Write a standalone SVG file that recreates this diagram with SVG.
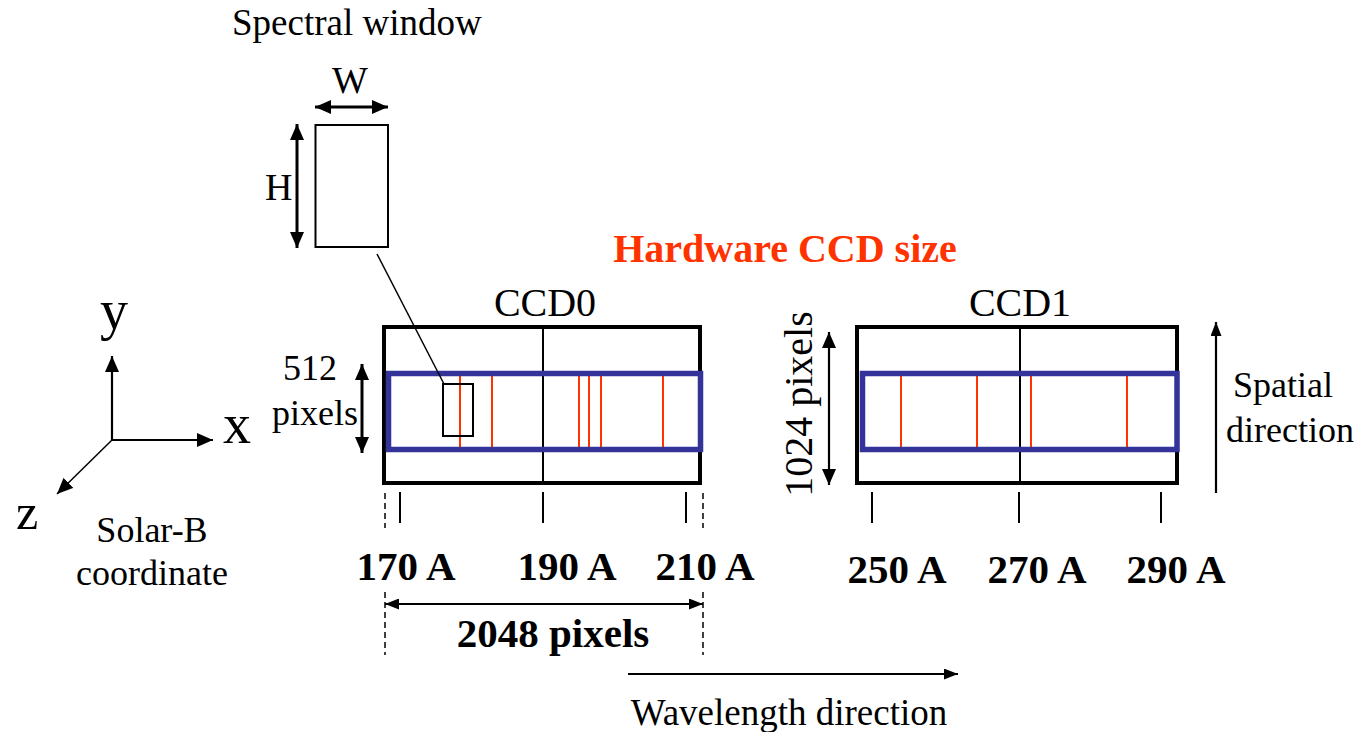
<svg xmlns="http://www.w3.org/2000/svg" width="1361" height="732" viewBox="0 0 1361 732">
<defs>
<style>
text{font-family:"Liberation Serif","Times New Roman",serif;fill:#000}
.t36{font-size:36px}
.b41{font-size:41px;font-weight:bold}
.red{fill:#ff3300}
.frame{fill:none;stroke:#000;stroke-width:4}
.band{fill:none;stroke:#333399;stroke-width:5.5}
.mid{stroke:#000;stroke-width:2}
.line{stroke:#ff3300;stroke-width:2}
.tick{stroke:#000;stroke-width:2}
.dash{stroke:#000;stroke-width:1.5;stroke-dasharray:6 4}
.arr{stroke:#000;stroke-width:3;fill:none}
.thin{stroke:#000;stroke-width:2.2;fill:none}
</style>
<marker id="ah" viewBox="0 0 16 14" refX="16" refY="7" markerWidth="16" markerHeight="14" markerUnits="userSpaceOnUse" orient="auto-start-reverse">
<path d="M0,0 L16,7 L0,14 z" fill="#000"/>
</marker>
<marker id="ahs" viewBox="0 0 14 11" refX="14" refY="5.5" markerWidth="14" markerHeight="11" markerUnits="userSpaceOnUse" orient="auto-start-reverse">
<path d="M0,0 L14,5.5 L0,11 z" fill="#000"/>
</marker>
</defs>
<rect width="1361" height="732" fill="#fff"/>

<g id="spectral-window">
<text x="232" y="35" style="font-size:37px">Spectral window</text>
<rect x="315.5" y="125" width="72.5" height="122" fill="none" stroke="#000" stroke-width="2"/>
<line x1="315" y1="107" x2="388" y2="107" class="arr" marker-start="url(#ah)" marker-end="url(#ah)"/>
<text x="350" y="93" text-anchor="middle" style="font-size:38px">W</text>
<line x1="297" y1="124" x2="297" y2="248" class="arr" marker-start="url(#ah)" marker-end="url(#ah)"/>
<text x="265" y="200" style="font-size:38px">H</text>
</g>

<g id="hardware-label">
<text x="785" y="262" text-anchor="middle" class="red" style="font-size:40px;font-weight:bold">Hardware CCD size</text>
</g>

<g id="ccd0">
<text x="545" y="316" text-anchor="middle" style="font-size:40px">CCD0</text>
<rect x="384" y="327" width="316" height="156" class="frame"/>
<line x1="543" y1="327" x2="543" y2="483" class="mid"/>
<line x1="460" y1="374" x2="460" y2="447" class="line"/>
<line x1="492" y1="374" x2="492" y2="447" class="line"/>
<line x1="579" y1="374" x2="579" y2="447" class="line"/>
<line x1="589" y1="374" x2="589" y2="447" class="line"/>
<line x1="601" y1="374" x2="601" y2="447" class="line"/>
<line x1="663" y1="374" x2="663" y2="447" class="line"/>
<rect x="388.5" y="373.5" width="312" height="76" class="band"/>
<rect x="443" y="384" width="30" height="52" fill="none" stroke="#000" stroke-width="2"/>
<text x="310" y="380" text-anchor="middle" class="t36">512</text>
<text x="315" y="425" text-anchor="middle" class="t36">pixels</text>
<line x1="362" y1="364" x2="362" y2="453" class="arr" marker-start="url(#ah)" marker-end="url(#ah)"/>
</g>

<g id="ccd1">
<text x="1020" y="316" text-anchor="middle" style="font-size:40px">CCD1</text>
<rect x="857" y="327" width="320" height="156" class="frame"/>
<line x1="1020" y1="327" x2="1020" y2="483" class="mid"/>
<line x1="901" y1="374" x2="901" y2="447" class="line"/>
<line x1="977" y1="374" x2="977" y2="447" class="line"/>
<line x1="1031" y1="374" x2="1031" y2="447" class="line"/>
<line x1="1127" y1="374" x2="1127" y2="450" class="line"/>
<rect x="862.5" y="373.5" width="314.5" height="76" class="band"/>
<text transform="translate(812,404) rotate(-90)" text-anchor="middle" style="font-size:40px">1024 pixels</text>
<line x1="829" y1="332" x2="829" y2="485" class="thin" marker-start="url(#ah)" marker-end="url(#ah)"/>
</g>

<g id="spatial-direction">
<line x1="1216" y1="493" x2="1216" y2="322" class="thin" marker-end="url(#ahs)"/>
<text x="1283" y="397" text-anchor="middle" class="t36">Spatial</text>
<text x="1290" y="442" text-anchor="middle" class="t36">direction</text>
</g>

<g id="coordinate">
<line x1="112" y1="440" x2="112" y2="356" class="thin" marker-end="url(#ah)"/>
<line x1="112" y1="440" x2="213" y2="440" class="thin" marker-end="url(#ah)"/>
<line x1="112" y1="440" x2="57" y2="494" stroke="#000" stroke-width="1.5" marker-end="url(#ah)"/>
<text x="114" y="329" text-anchor="middle" style="font-size:56px">y</text>
<text x="237" y="443" text-anchor="middle" style="font-size:56px">x</text>
<text x="27" y="529" text-anchor="middle" style="font-size:50px">z</text>
<text x="152" y="542" text-anchor="middle" class="t36">Solar-B</text>
<text x="152" y="585" text-anchor="middle" class="t36">coordinate</text>
</g>

<g id="ccd0-scale">
<line x1="385" y1="493" x2="385" y2="528" class="dash"/>
<line x1="400" y1="492" x2="400" y2="523" class="tick"/>
<line x1="543" y1="492" x2="543" y2="523" class="tick"/>
<line x1="686" y1="492" x2="686" y2="523" class="tick"/>
<line x1="703" y1="493" x2="703" y2="528" class="dash"/>
<text x="406" y="580" text-anchor="middle" class="b41">170 A</text>
<text x="567" y="580" text-anchor="middle" class="b41">190 A</text>
<text x="705" y="580" text-anchor="middle" class="b41">210 A</text>
<line x1="385" y1="592" x2="385" y2="655" class="dash"/>
<line x1="703" y1="592" x2="703" y2="655" class="dash"/>
<text x="553" y="647" text-anchor="middle" class="b41">2048 pixels</text>
</g>

<g id="ccd1-scale">
<line x1="872" y1="492" x2="872" y2="523" class="tick"/>
<line x1="1019" y1="492" x2="1019" y2="523" class="tick"/>
<line x1="1161" y1="492" x2="1161" y2="523" class="tick"/>
<text x="897" y="583" text-anchor="middle" class="b41">250 A</text>
<text x="1037" y="583" text-anchor="middle" class="b41">270 A</text>
<text x="1176" y="583" text-anchor="middle" class="b41">290 A</text>
</g>

<g id="wavelength-direction">
<line x1="628" y1="674" x2="958" y2="674" class="thin" marker-end="url(#ahs)"/>
<text x="789" y="725" text-anchor="middle" style="font-size:37px">Wavelength direction</text>
</g>

<g id="connectors">
<line x1="377" y1="254" x2="444" y2="384" stroke="#000" stroke-width="1.5"/>
<line x1="385" y1="604" x2="703" y2="604" class="thin" marker-start="url(#ahs)" marker-end="url(#ahs)"/>
</g>
</svg>
